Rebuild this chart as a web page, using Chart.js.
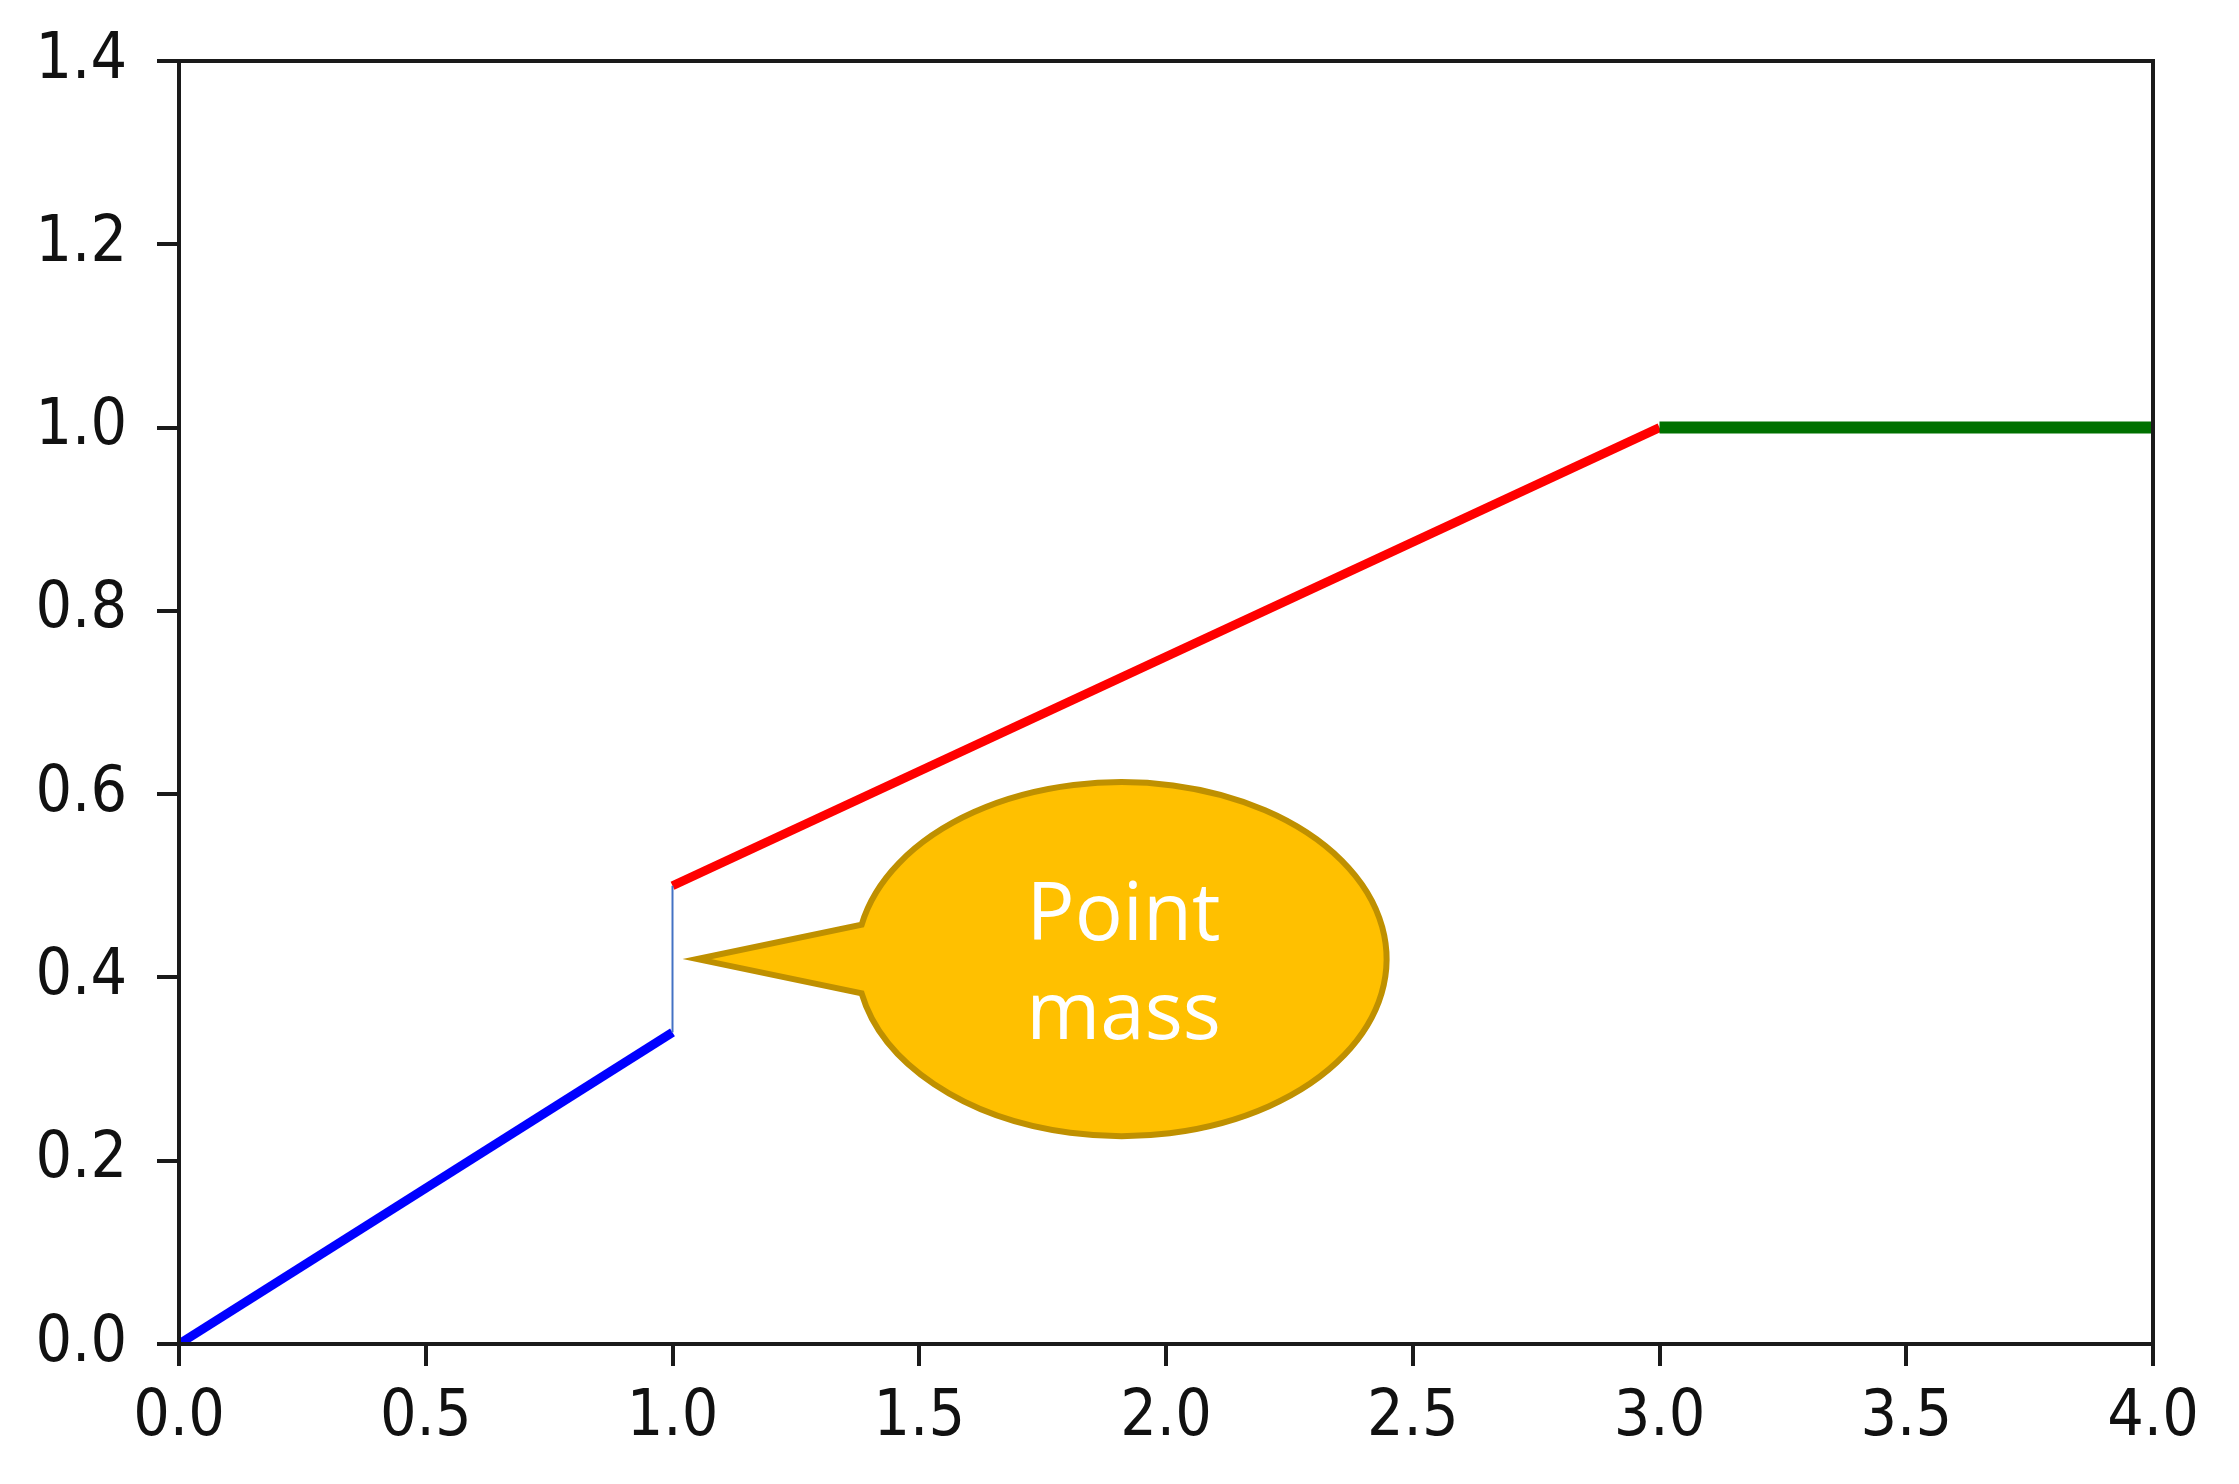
<!DOCTYPE html>
<html>
<head>
<meta charset="utf-8">
<script src="https://cdn.jsdelivr.net/npm/chart.js@4"></script>
<style>
  html, body { margin: 0; padding: 0; background: #fff; }
  #wrap { width: 2239px; height: 1484px; }
</style>
</head>
<body>
<div id="wrap"><canvas id="cdfChart"></canvas></div>
<script>
// Data
const blueX = [0, 1];
const blueY = [0, 0.34];
const jumpX = [1, 1];
const jumpY = [0.34, 0.5];
const redX = [1, 3];
const redY = [0.5, 1.0];
const greenX = [3, 4];
const greenY = [1.0, 1.0];

const xTickValues = [0, 0.5, 1, 1.5, 2, 2.5, 3, 3.5, 4];
const yTickValues = [0, 0.2, 0.4, 0.6, 0.8, 1.0, 1.2, 1.4];

const calloutLines = ['Point', 'mass'];

const toPoints = (xs, ys) => xs.map((x, i) => ({ x: x, y: ys[i] }));

const tickFont = { family: "'DejaVu Sans Condensed', 'DejaVu Sans'", size: 64 };

// Black box round the plot area
const frame = {
    id: 'frame',
    afterDraw(chart) {
        const { ctx, chartArea: a } = chart;
        ctx.save();
        ctx.strokeStyle = '#1a1a1a';
        ctx.lineWidth = 4;
        ctx.strokeRect(a.left, a.top, a.right - a.left, a.bottom - a.top);
        ctx.restore();
    }
};

// Speech bubble pointing at the jump
const callout = {
    id: 'callout',
    afterDraw(chart) {
        const { ctx, scales } = chart;
        const cx = scales.x.getPixelForValue(1.91);
        const cy = scales.y.getPixelForValue(0.42);
        const tipX = scales.x.getPixelForValue(1.05);
        const tipY = cy;
        const rx = 265, ry = 177;
        const a0 = Math.PI + 0.195;
        const a1 = 3 * Math.PI - 0.195;
        ctx.save();
        ctx.beginPath();
        ctx.ellipse(cx, cy, rx, ry, 0, a0, a1, false);
        ctx.lineTo(tipX, tipY);
        ctx.closePath();
        ctx.fillStyle = '#FFC000';
        ctx.fill();
        ctx.lineWidth = 6;
        ctx.strokeStyle = '#BF9000';
        ctx.lineJoin = 'miter';
        ctx.stroke();
        ctx.fillStyle = '#fff';
        ctx.font = "80px 'Open Sans'";
        ctx.textAlign = 'center';
        ctx.textBaseline = 'alphabetic';
        ctx.fillText(calloutLines[0], cx + 2, cy - 19);
        ctx.fillText(calloutLines[1], cx + 2, cy + 80);
        ctx.restore();
    }
};

const line = (pts, color, width) => ({
    data: pts,
    borderColor: color,
    borderWidth: width,
    showLine: true,
    pointRadius: 0,
    fill: false
});

const config = {
    type: 'scatter',
    data: {
        datasets: [
            line(toPoints(jumpX, jumpY), '#4472C4', 2),
            line(toPoints(greenX, greenY), '#007000', 12),
            line(toPoints(redX, redY), '#ff0000', 9),
            line(toPoints(blueX, blueY), '#0000ff', 9)
        ]
    },
    options: {
        responsive: true,
        maintainAspectRatio: false,
        animation: false,
        layout: { padding: { top: 61, right: 86, left: 0, bottom: 0 } },
        plugins: {
            legend: { display: false },
            tooltip: { enabled: false }
        },
        scales: {
            x: {
                type: 'linear',
                min: 0,
                max: 4,
                afterBuildTicks: s => { s.ticks = xTickValues.map(v => ({ value: v })); },
                afterFit: s => { s.height = 140; s.paddingLeft = 0; s.paddingRight = 0; },
                ticks: {
                    callback: v => v.toFixed(1),
                    font: tickFont,
                    color: '#111',
                    padding: 14,
                    maxRotation: 0
                },
                grid: { drawOnChartArea: false, drawTicks: true, tickLength: 22, color: '#1a1a1a', lineWidth: 4 },
                border: { display: true, color: '#1a1a1a', width: 4 }
            },
            y: {
                type: 'linear',
                min: 0,
                max: 1.4,
                afterBuildTicks: s => { s.ticks = yTickValues.map(v => ({ value: v })); },
                afterFit: s => { s.width = 179; s.paddingTop = 0; s.paddingBottom = 0; },
                ticks: {
                    callback: v => v.toFixed(1),
                    font: tickFont,
                    color: '#111',
                    padding: 30
                },
                grid: { drawOnChartArea: false, drawTicks: true, tickLength: 22, color: '#1a1a1a', lineWidth: 4 },
                border: { display: true, color: '#1a1a1a', width: 4 }
            }
        }
    },
    plugins: [frame, callout]
};

const ctx = document.getElementById('cdfChart').getContext('2d');
const cdfChart = new Chart(ctx, config);
</script>
</body>
</html>
